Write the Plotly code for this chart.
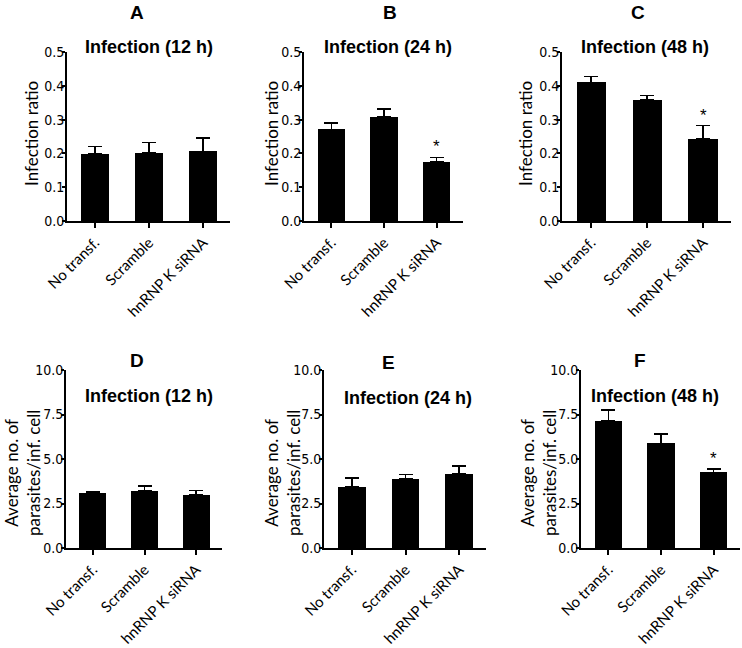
import plotly.graph_objects as go

W, H = 742, 648

categories = ["No transf.", "Scramble", "hnRNP K siRNA"]

ratio_12h = [0.198, 0.202, 0.206]
ratio_12h_err = [0.022, 0.030, 0.039]
ratio_24h = [0.271, 0.309, 0.175]
ratio_24h_err = [0.019, 0.022, 0.013]
ratio_48h = [0.410, 0.358, 0.243]
ratio_48h_err = [0.017, 0.013, 0.039]

parasites_12h = [3.11, 3.19, 2.98]
parasites_12h_err = [0.06, 0.28, 0.25]
parasites_24h = [3.43, 3.90, 4.17]
parasites_24h_err = [0.49, 0.23, 0.45]
parasites_48h = [7.13, 5.88, 4.25]
parasites_48h_err = [0.62, 0.52, 0.19]

panel_letters = ["A", "B", "C", "D", "E", "F"]
panel_titles = ["Infection (12 h)", "Infection (24 h)", "Infection (48 h)",
                "Infection (12 h)", "Infection (24 h)", "Infection (48 h)"]
significant = [
    [False, False, False], [False, False, True], [False, False, True],
    [False, False, False], [False, False, False], [False, False, True],
]
ratio_ticks = [0.0, 0.1, 0.2, 0.3, 0.4, 0.5]
parasite_ticks = [0.0, 2.5, 5.0, 7.5, 10.0]
ylabel_ratio = "Infection ratio"
ylabel_parasites = "Average no. of<br>parasites/inf. cell"

values = [ratio_12h, ratio_24h, ratio_48h, parasites_12h, parasites_24h, parasites_48h]
errors = [ratio_12h_err, ratio_24h_err, ratio_48h_err,
          parasites_12h_err, parasites_24h_err, parasites_48h_err]

# layout geometry in pixels: (x0, x1, ytop, ybottom)
boxes = [
    (67, 230, 52, 221), (304, 463, 52, 221), (562, 731, 52, 221),
    (66, 222, 370, 548), (324, 486, 370, 548), (581, 740, 370, 548),
]
letter_pos = [(137, 13), (390, 13), (638, 13), (137, 360), (388, 362), (640, 360)]
title_pos = [(149, 47), (388, 47), (645, 47), (149, 396), (408, 398), (655, 396)]
ylab_pos = [(31, 134), (271, 134), (525, 134), (22, 473), (282, 473), (538, 473)]

def px(x):
    return x / W

def py(y):
    return 1 - y / H

TICKFONT_Y = dict(family="Liberation Sans Narrow, DejaVu Sans Condensed, Arial Narrow, sans-serif",
                  size=14, color="black")
TICKFONT_X = dict(family="Lato, Open Sans, sans-serif", size=15, color="black")

fig = go.Figure()
annotations = []

for i in range(6):
    n = i + 1
    xa = "x" if n == 1 else f"x{n}"
    ya = "y" if n == 1 else f"y{n}"
    fig.add_trace(go.Bar(
        x=list(range(len(categories))), y=values[i],
        xaxis=xa, yaxis=ya, width=0.52,
        marker=dict(color="black", line=dict(width=0)),
        error_y=dict(type="data", symmetric=False, array=errors[i],
                     arrayminus=[0] * len(categories),
                     color="black", thickness=1.6, width=7),
        showlegend=False, hoverinfo="skip",
    ))
    x0, x1, yt, yb = boxes[i]
    is_ratio = i < 3
    ticks = ratio_ticks if is_ratio else parasite_ticks
    fig.layout[f"xaxis{'' if n == 1 else n}"] = dict(
        domain=[px(x0), px(x1)], anchor=ya, range=[-0.52, 2.5],
        tickmode="array", tickvals=list(range(len(categories))), ticktext=categories,
        tickangle=-45, ticks="outside", ticklen=5, tickwidth=1.5, tickcolor="black",
        showline=True, linewidth=2, linecolor="black", showgrid=False, zeroline=False,
        tickfont=TICKFONT_X, fixedrange=True, automargin=False,
    )
    fig.layout[f"yaxis{'' if n == 1 else n}"] = dict(
        domain=[py(yb), py(yt)], anchor=xa, range=[ticks[0], ticks[-1]],
        tickmode="array", tickvals=ticks, ticktext=[f"{t:.1f}" for t in ticks],
        ticks="outside", ticklen=3, tickwidth=1.5, tickcolor="black",
        showline=True, linewidth=2, linecolor="black", showgrid=False, zeroline=False,
        tickfont=TICKFONT_Y, fixedrange=True, automargin=False, ticklabelstandoff=-5,
    )
    lx, ly = letter_pos[i]
    annotations.append(dict(x=px(lx), y=py(ly), xref="paper", yref="paper",
                            text=f"<b>{panel_letters[i]}</b>", showarrow=False,
                            xanchor="center", yanchor="middle",
                            font=dict(family="Liberation Sans, Arial, sans-serif", size=19, color="black")))
    tx, ty = title_pos[i]
    annotations.append(dict(x=px(tx), y=py(ty), xref="paper", yref="paper",
                            text=f"<b>{panel_titles[i]}</b>", showarrow=False,
                            xanchor="center", yanchor="middle",
                            font=dict(family="Liberation Sans, Arial, sans-serif", size=18, color="black")))
    ax, ay = ylab_pos[i]
    annotations.append(dict(x=px(ax), y=py(ay), xref="paper", yref="paper",
                            text=ylabel_ratio if is_ratio else ylabel_parasites,
                            showarrow=False, textangle=-90,
                            xanchor="center", yanchor="middle",
                            font=dict(family="Lato, Open Sans, sans-serif", size=17, color="black")))
    for j, sig in enumerate(significant[i]):
        if sig:
            annotations.append(dict(x=j, y=values[i][j] + errors[i][j], xref=xa, yref=ya,
                                    text="*", showarrow=False, xanchor="center", yanchor="bottom",
                                    yshift=-1,
                                    font=dict(family="Liberation Sans, Arial, sans-serif", size=17, color="black")))

fig.update_layout(
    width=W, height=H, margin=dict(l=0, r=0, t=0, b=0, autoexpand=False),
    paper_bgcolor="white", plot_bgcolor="white",
    annotations=annotations, bargap=0,
)

fig.write_html("out.html", config={"displayModeBar": False},
               post_script="document.body.style.margin='0px';document.body.style.padding='0px';")
